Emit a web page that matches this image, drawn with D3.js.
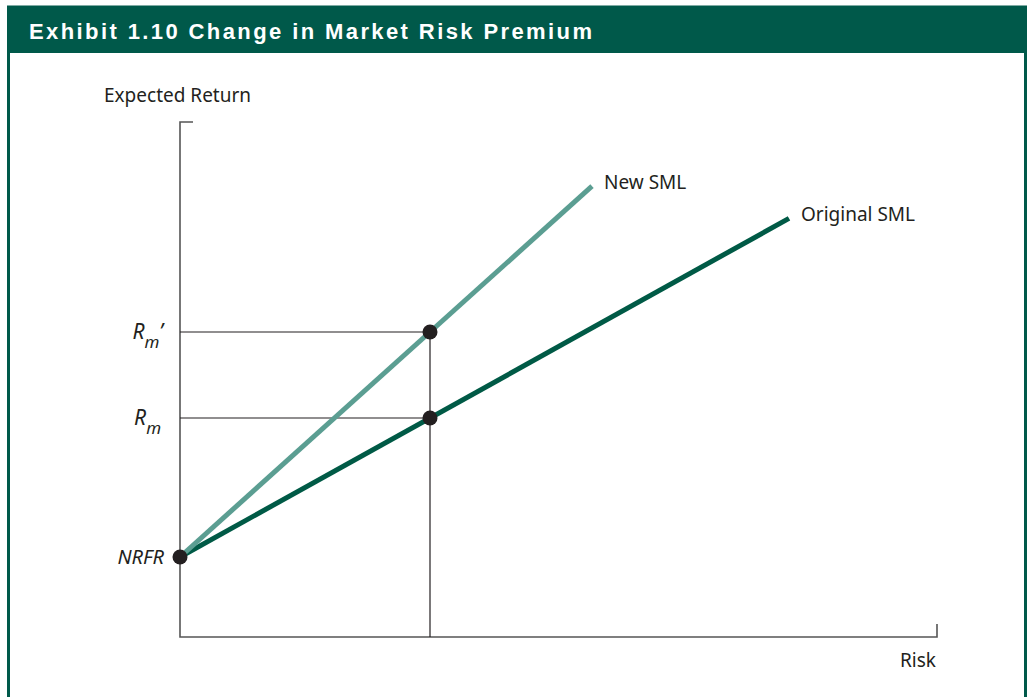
<!DOCTYPE html>
<html>
<head>
<meta charset="utf-8">
<script src="https://cdn.jsdelivr.net/npm/d3@7"></script>
<style>
  body { margin: 0; background: #fff; }
  text { font-family: "Noto Sans", "Open Sans", sans-serif; fill: #231f20; }
</style>
</head>
<body>
<div id="chart"></div>
<script>
// values (risk = beta-like units, return in arbitrary units)
var title = "Exhibit 1.10 Change in Market Risk Premium"
var nrfr = 1.6
var marketRisk = 1
var rmOriginal = 4.38
var rmNew = 6.1
var lineNames = ["Original SML", "New SML"]
var lineRm = [rmOriginal, rmNew]
var lineEndRisk = [2.436, 1.648]
var lineColors = ["#005a46", "#5b9e92"]

var width = 1030
var height = 697

var svg = d3.select("#chart")
    .append("svg")
    .attr("width", width)
    .attr("height", height)

// frame + header
svg.append("rect")
    .attr("x", 8.5).attr("y", 7)
    .attr("width", 1017).attr("height", 700)
    .attr("fill", "none")
    .attr("stroke", "#00594a")
    .attr("stroke-width", 3)
svg.append("rect")
    .attr("x", 7).attr("y", 7)
    .attr("width", 1020).attr("height", 46)
    .attr("fill", "#00594a")
svg.append("text")
    .attr("x", 29).attr("y", 38.5)
    .text(title)
    .style("font-family", "'Liberation Sans', Arial, sans-serif")
    .style("font-weight", "bold")
    .style("font-size", "22px")
    .style("letter-spacing", "2.4px")
    .style("fill", "#fff")

// scales
var x = d3.scaleLinear().domain([0, 3.028]).range([180, 937])
var y = d3.scaleLinear().domain([0, 10.3]).range([637, 122])

var g = svg.append("g")

// axes (plain lines with end ticks)
var axis = d3.line()
g.append("path")
    .attr("d", axis([[x(0) + 13, y(10.3)], [x(0), y(10.3)], [x(0), y(0)], [x(3.028), y(0)], [x(3.028), y(0) - 13]]))
    .attr("fill", "none")
    .attr("stroke", "#555")
    .attr("stroke-width", 1.6)

// guide lines
var guides = [[[x(0), y(rmNew)], [x(marketRisk), y(rmNew)]],
              [[x(0), y(rmOriginal)], [x(marketRisk), y(rmOriginal)]],
              [[x(marketRisk), y(rmNew)], [x(marketRisk), y(0)]]]
g.selectAll(".guide")
    .data(guides)
    .enter()
    .append("path")
    .attr("d", function(d) { return axis(d) })
    .attr("fill", "none")
    .attr("stroke", "#231f20")
    .attr("stroke-width", 1.2)

// security market lines
var smls = lineNames.map(function(n, i) {
    var slope = (lineRm[i] - nrfr) / marketRisk
    return { name: n, color: lineColors[i], pts: [[0, nrfr], [lineEndRisk[i], nrfr + slope * lineEndRisk[i]]] }
})
var line = d3.line().x(function(d) { return x(d[0]) }).y(function(d) { return y(d[1]) })
g.selectAll(".sml")
    .data(smls)
    .enter()
    .append("path")
    .attr("d", function(d) { return line(d.pts) })
    .attr("fill", "none")
    .attr("stroke", function(d) { return d.color })
    .attr("stroke-width", 5)

g.selectAll(".smlLabel")
    .data(smls)
    .enter()
    .append("text")
    .attr("x", function(d) { return x(d.pts[1][0]) + 12 })
    .attr("y", function(d) { return y(d.pts[1][1]) + 3 })
    .text(function(d) { return d.name })
    .style("font-size", "19px")

// points
var dots = [[0, nrfr], [marketRisk, rmOriginal], [marketRisk, rmNew]]
g.selectAll(".dot")
    .data(dots)
    .enter()
    .append("circle")
    .attr("cx", function(d) { return x(d[0]) })
    .attr("cy", function(d) { return y(d[1]) })
    .attr("r", 7.5)
    .attr("fill", "#231f20")

// y labels
function yLabel(val, prime) {
    var t = g.append("text")
        .attr("x", prime ? 163 : 161)
        .attr("y", y(val) + 7)
        .attr("text-anchor", "end")
        .style("font-size", "21px")
        .style("font-style", "italic")
    t.append("tspan").text("R")
    t.append("tspan").attr("dy", 9).style("font-size", "17px").text("m")
    if (prime) t.append("tspan").attr("dy", -9).text("\u2019")
}
yLabel(rmNew, true)
yLabel(rmOriginal, false)

g.append("text")
    .attr("x", 164)
    .attr("y", y(nrfr) + 7)
    .attr("text-anchor", "end")
    .style("font-size", "20px")
    .style("font-style", "italic")
    .text("NRFR")

// axis titles
g.append("text")
    .attr("x", 104).attr("y", 102)
    .text("Expected Return")
    .style("font-size", "19px")
g.append("text")
    .attr("x", 936).attr("y", 667)
    .attr("text-anchor", "end")
    .text("Risk")
    .style("font-size", "19px")
</script>
</body>
</html>
